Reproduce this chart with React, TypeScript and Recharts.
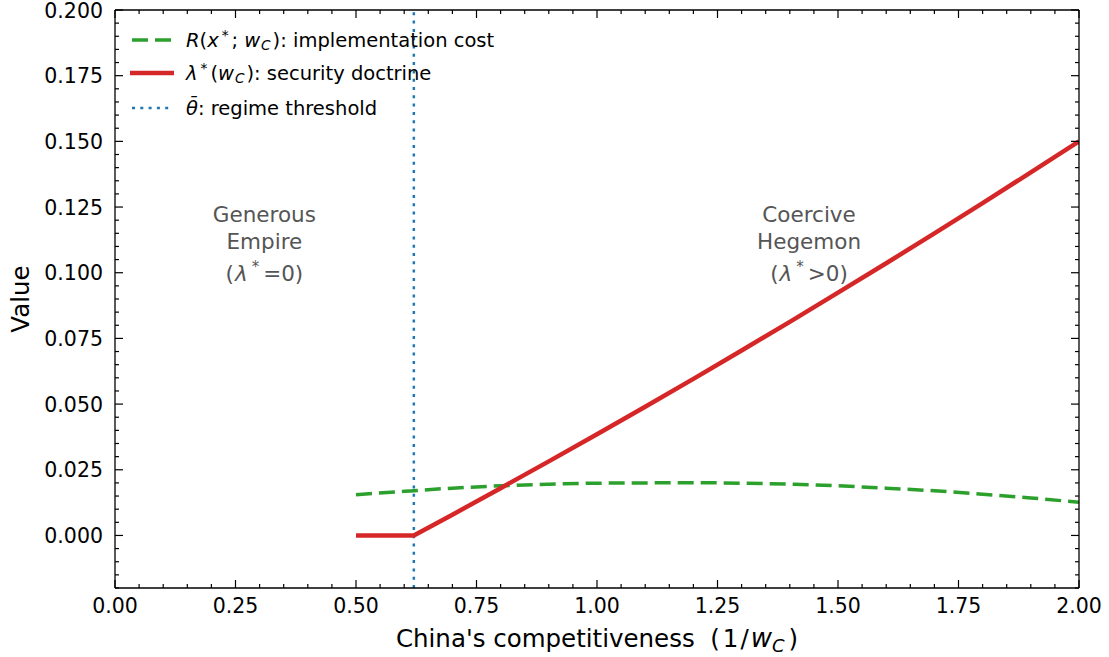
import { LineChart, Line, XAxis, YAxis, ReferenceLine, ReferenceDot } from "recharts";

// implementation cost R(x*; w_C)
const costX = [0.5, 0.6, 0.7, 0.8, 0.9, 1.0, 1.1, 1.2, 1.3, 1.4, 1.5, 1.6, 1.7, 1.8, 1.9, 2.0];
const costValues = [0.0155, 0.0168, 0.0180, 0.0189, 0.0195, 0.0199, 0.0200, 0.0201, 0.0199, 0.0195, 0.0189, 0.0180, 0.0170, 0.0157, 0.0143, 0.0126];

// security doctrine lambda*(w_C)
const doctrineX = [0.5, 0.62, 0.7, 0.8, 0.9, 1.0, 1.1, 1.2, 1.3, 1.4, 1.5, 1.6, 1.7, 1.8, 1.9, 2.0];
const doctrineValues = [0, 0, 0.0079, 0.0180, 0.0282, 0.0385, 0.0490, 0.0596, 0.0704, 0.0813, 0.0924, 0.1036, 0.1150, 0.1265, 0.1382, 0.150];

const threshold = 0.62;

const xMajorTicks = [0, 0.25, 0.5, 0.75, 1.0, 1.25, 1.5, 1.75, 2.0];
const xTickLabels = ["0.00", "0.25", "0.50", "0.75", "1.00", "1.25", "1.50", "1.75", "2.00"];
const yMajorTicks = [0, 0.025, 0.05, 0.075, 0.1, 0.125, 0.15, 0.175, 0.2];
const yTickLabels = ["0.000", "0.025", "0.050", "0.075", "0.100", "0.125", "0.150", "0.175", "0.200"];

const xMinorTicks: number[] = [];
for (let i = 0; i <= 40; i++) xMinorTicks.push(+(i * 0.05).toFixed(3));
const yMinorTicks: number[] = [];
for (let i = -4; i <= 40; i++) yMinorTicks.push(+(i * 0.005).toFixed(4));

const costData = costX.map((x, i) => ({ x, cost: costValues[i] }));
const doctrineData = doctrineX.map((x, i) => ({ x, doctrine: doctrineValues[i] }));

const FONT = "'DejaVu Sans', sans-serif";
const GREEN = "#2ca02c";
const RED = "#d62728";
const BLUE = "#1f77b4";

// plot frame (from the chart margins and axis sizes below)
const W = 1109;
const H = 657;
const MARGIN = { top: 9, right: 29, bottom: 0, left: 0 };
const Y_AXIS_W = 115;
const X_AXIS_H = 69;
const LEFT = MARGIN.left + Y_AXIS_W;
const RIGHT = W - MARGIN.right - 1;
const TOP = MARGIN.top + 1;
const BOTTOM = H - MARGIN.bottom - X_AXIS_H;

const majorIndex = (v: number, majors: number[]) => majors.findIndex((m) => Math.abs(m - v) < 1e-6);
const tickLen = (major: boolean) => (major ? 8 : 4);

function LeftTick(props: any) {
  const { payload } = props;
  const y = payload.coordinate;
  const i = majorIndex(payload.value, yMajorTicks);
  return (
    <g>
      <line x1={LEFT} x2={LEFT + tickLen(i >= 0)} y1={y} y2={y} stroke="#000" strokeWidth={1.2} />
      {i >= 0 && (
        <text x={LEFT - 12} y={y + 7.5} textAnchor="end" fontSize={20.5} fontFamily={FONT} fill="#000">
          {yTickLabels[i]}
        </text>
      )}
    </g>
  );
}

function RightTick(props: any) {
  const { payload } = props;
  const y = payload.coordinate;
  const i = majorIndex(payload.value, yMajorTicks);
  return <line x1={RIGHT} x2={RIGHT - tickLen(i >= 0)} y1={y} y2={y} stroke="#000" strokeWidth={1.2} />;
}

function BottomTick(props: any) {
  const { payload } = props;
  const x = payload.coordinate;
  const i = majorIndex(payload.value, xMajorTicks);
  return (
    <g>
      <line x1={x} x2={x} y1={BOTTOM} y2={BOTTOM - tickLen(i >= 0)} stroke="#000" strokeWidth={1.2} />
      {i >= 0 && (
        <text x={x} y={BOTTOM + 25} textAnchor="middle" fontSize={20.5} fontFamily={FONT} fill="#000">
          {xTickLabels[i]}
        </text>
      )}
    </g>
  );
}

function TopTick(props: any) {
  const { payload } = props;
  const x = payload.coordinate;
  const i = majorIndex(payload.value, xMajorTicks);
  return <line x1={x} x2={x} y1={TOP} y2={TOP + tickLen(i >= 0)} stroke="#000" strokeWidth={1.2} />;
}

function regionLabel(line1: string, line2: string, rel: string) {
  return ({ viewBox }: any) => {
    const cx = viewBox.x + (viewBox.width || 0) / 2;
    const cy = viewBox.y + (viewBox.height || 0) / 2;
    return (
      <text textAnchor="middle" fontSize={21.5} fontFamily={FONT} fill="#555">
        <tspan x={cx} y={cy - 22}>{line1}</tspan>
        <tspan x={cx} y={cy + 5}>{line2}</tspan>
        <tspan x={cx} y={cy + 37}>
          (<tspan fontStyle="italic" dx={1}>λ</tspan>
          <tspan fontSize={15} dx={4} dy={-9}>*</tspan>
          <tspan dx={4} dy={9}>{rel}</tspan>
          <tspan>0)</tspan>
        </tspan>
      </text>
    );
  };
}

const supStyle = { fontSize: "0.7em", verticalAlign: "0.45em", lineHeight: 0, margin: "0 3px 0 3px" };
const subStyle = { fontSize: "0.7em", verticalAlign: "-0.25em", lineHeight: 0, margin: "0 2px 0 1px" };

function LegendBox() {
  const rows = [
    {
      handle: <line x1={2} x2={42} y1={10} y2={10} stroke={GREEN} strokeWidth={3.5} strokeDasharray="16 7" />,
      label: (
        <>
          <i>R</i>(<i>x</i>
          <span style={supStyle}>*</span>;<span style={{ marginLeft: 6 }} />
          <i>w</i>
          <span style={subStyle}><i>C</i></span>): implementation cost
        </>
      ),
    },
    {
      handle: <line x1={0} x2={44} y1={10} y2={10} stroke={RED} strokeWidth={4.5} />,
      label: (
        <>
          <i>λ</i>
          <span style={supStyle}>*</span>(<i>w</i>
          <span style={subStyle}><i>C</i></span>): security doctrine
        </>
      ),
    },
    {
      handle: <line x1={2} x2={42} y1={10} y2={10} stroke={BLUE} strokeWidth={2.5} strokeDasharray="3 5.3" />,
      label: (
        <>
          <i>θ̄</i>: regime threshold
        </>
      ),
    },
  ];
  const centers = [40, 73, 108];
  return (
    <>
      {rows.map((r, i) => (
        <div
          key={i}
          style={{
            position: "absolute",
            left: 130,
            top: centers[i] - 14,
            height: 28,
            display: "flex",
            alignItems: "center",
            fontFamily: FONT,
            fontSize: 19.5,
            whiteSpace: "nowrap",
            color: "#000",
          }}
        >
          <svg width={46} height={20} style={{ marginRight: 10 }}>
            {r.handle}
          </svg>
          <span>{r.label}</span>
        </div>
      ))}
    </>
  );
}

export default function App() {
  return (
    <div style={{ position: "fixed", left: 0, top: 0, width: W, height: H, background: "#fff" }}>
      <LineChart width={W} height={H} margin={MARGIN}>
        <XAxis
          dataKey="x"
          type="number"
          domain={[0, 2]}
          ticks={xMinorTicks}
          interval={0}
          allowDataOverflow
          height={X_AXIS_H}
          tickSize={0}
          tickMargin={8}
          tick={<BottomTick />}
          axisLine={{ stroke: "#000", strokeWidth: 1.3 }}
          label={{
            content: ({ viewBox }: any) => (
              <text
                x={viewBox.x + viewBox.width / 2}
                y={BOTTOM + 59}
                textAnchor="middle"
                fontSize={24.5}
                fontFamily={FONT}
                fill="#000"
              >
                China's competitiveness{"\u00a0\u00a0"}(
                <tspan dx={3}>1</tspan>
                <tspan dx={2}>/</tspan>
                <tspan fontStyle="italic" dx={2} fontSize={26}>w</tspan>
                <tspan fontStyle="italic" fontSize={18} dy={5}>C</tspan>
                <tspan dx={4} dy={-5}>)</tspan>
              </text>
            ),
          }}
        />
        <XAxis
          xAxisId="top"
          orientation="top"
          dataKey="x"
          type="number"
          domain={[0, 2]}
          ticks={xMinorTicks}
          interval={0}
          allowDataOverflow
          height={1}
          tickSize={0}
          tickMargin={0}
          tick={<TopTick />}
          axisLine={{ stroke: "#000", strokeWidth: 1.3 }}
        />
        <YAxis
          type="number"
          domain={[-0.02, 0.2]}
          ticks={yMinorTicks}
          interval={0}
          allowDataOverflow
          width={Y_AXIS_W}
          tickSize={0}
          tickMargin={12}
          tick={<LeftTick />}
          axisLine={{ stroke: "#000", strokeWidth: 1.3 }}
          label={{
            content: ({ viewBox }: any) => {
              const cy = viewBox.y + viewBox.height / 2;
              return (
                <text
                  x={29}
                  y={cy}
                  transform={`rotate(-90 29 ${cy})`}
                  textAnchor="middle"
                  fontSize={24.5}
                  fontFamily={FONT}
                  fill="#000"
                >
                  Value
                </text>
              );
            },
          }}
        />
        <YAxis
          yAxisId="right"
          orientation="right"
          type="number"
          domain={[-0.02, 0.2]}
          ticks={yMinorTicks}
          interval={0}
          allowDataOverflow
          width={1}
          tickSize={0}
          tickMargin={0}
          tick={<RightTick />}
          axisLine={{ stroke: "#000", strokeWidth: 1.3 }}
        />
        <ReferenceLine x={threshold} stroke={BLUE} strokeWidth={2.5} strokeDasharray="3 5.3" />
        <Line
          data={costData}
          dataKey="cost"
          type="monotone"
          stroke={GREEN}
          strokeWidth={3.5}
          strokeDasharray="16 7"
          dot={false}
          activeDot={false}
          isAnimationActive={false}
        />
        <Line
          data={doctrineData}
          dataKey="doctrine"
          type="linear"
          stroke={RED}
          strokeWidth={4.5}
          dot={false}
          activeDot={false}
          isAnimationActive={false}
        />
        <ReferenceDot x={0.31} y={0.111} r={0} fill="none" stroke="none" label={{ content: regionLabel("Generous", "Empire", "=") }} />
        <ReferenceDot x={1.44} y={0.111} r={0} fill="none" stroke="none" label={{ content: regionLabel("Coercive", "Hegemon", ">") }} />
      </LineChart>
      <LegendBox />
    </div>
  );
}
